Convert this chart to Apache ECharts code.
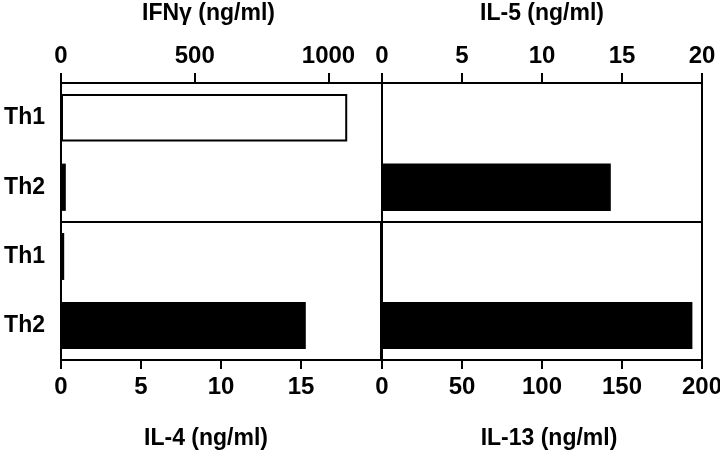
<!DOCTYPE html>
<html>
<head>
<meta charset="utf-8">
<script src="https://cdn.jsdelivr.net/npm/echarts@6/dist/echarts.min.js"></script>
<style>
    html, body { margin: 0; padding: 0; background: #fff; }
    #chart { width: 720px; height: 454px; }
</style>
</head>
<body>
<div id="chart"></div>
<script>
// cell types, top to bottom in each panel
var groups = ['Th1', 'Th2'];

// cytokine amounts (ng/ml), one value per group
var ifng = [1070, 18];
var il5 = [0, 14.3];
var il4 = [0.2, 15.3];
var il13 = [0, 194];

var font = 'Liberation Sans, Arial, Helvetica, sans-serif';

var chart = echarts.init(document.getElementById('chart'));

function grid(left, top, width, height) {
    return {
        left: left,
        top: top,
        width: width,
        height: height,
        outerBoundsMode: 'none',
        show: true,
        borderColor: '#000',
        borderWidth: 2,
        backgroundColor: 'transparent'
    };
}

function valueAxis(idx, position, name, max, interval, nameShift) {
    var top = position === 'top';
    return {
        type: 'value',
        gridIndex: idx,
        position: position,
        min: 0,
        max: max,
        interval: interval,
        name: name,
        nameLocation: 'middle',
        nameGap: top ? 58 : 67,
        nameTextStyle: {
            color: '#000',
            fontFamily: font,
            fontWeight: 'bold',
            fontSize: 23,
            padding: nameShift > 0 ? [0, nameShift, 0, 0] : [0, 0, 0, -nameShift]
        },
        axisLine: { show: true, lineStyle: { color: '#000', width: 2 } },
        axisTick: { show: true, length: top ? 10 : 9, lineStyle: { color: '#000', width: 2 } },
        axisLabel: {
            color: '#000',
            fontFamily: font,
            fontWeight: 'bold',
            fontSize: 24,
            margin: 15,
            showMaxLabel: idx === 1 || idx === 3,
            formatter: function (v) { return String(v); }
        },
        splitLine: { show: false }
    };
}

function categoryAxis(idx, showLabels) {
    return {
        type: 'category',
        gridIndex: idx,
        data: groups,
        inverse: true,
        axisLine: { show: false },
        axisTick: { show: false },
        axisLabel: {
            show: showLabels,
            color: '#000',
            fontFamily: font,
            fontWeight: 'bold',
            fontSize: 23,
            margin: 16
        },
        splitLine: { show: false }
    };
}

function barSeries(idx, values, styles) {
    return {
        type: 'bar',
        xAxisIndex: idx,
        yAxisIndex: idx,
        barWidth: '68%',
        data: values.map(function (v, i) {
            return { value: v, itemStyle: styles[i] };
        })
    };
}

var solid = { color: '#000' };
var open = { color: '#fff', borderColor: '#000', borderWidth: 2 };

var options = {
    animation: false,
    backgroundColor: '#fff',
    grid: [
        grid(61, 83, 321, 139),
        grid(382, 83, 320, 139),
        grid(61, 222, 320, 138),
        grid(382, 222, 320, 138)
    ],
    xAxis: [
        valueAxis(0, 'top', 'IFNγ (ng/ml)', 1200, 500, 26),
        valueAxis(1, 'top', 'IL-5 (ng/ml)', 20, 5, 0),
        valueAxis(2, 'bottom', 'IL-4 (ng/ml)', 20, 5, 30),
        valueAxis(3, 'bottom', 'IL-13 (ng/ml)', 200, 50, -14)
    ],
    yAxis: [
        categoryAxis(0, true),
        categoryAxis(1, false),
        categoryAxis(2, true),
        categoryAxis(3, false)
    ],
    series: [
        barSeries(0, ifng, [open, solid]),
        barSeries(1, il5, [solid, solid]),
        barSeries(2, il4, [solid, solid]),
        barSeries(3, il13, [solid, solid])
    ]
};

chart.setOption(options);
</script>
</body>
</html>
